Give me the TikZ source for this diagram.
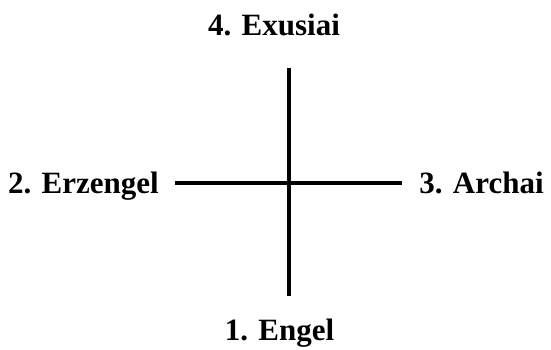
\documentclass[tikz,border=0pt]{standalone}
\usepackage{fontspec}
\setmainfont{Liberation Serif}
\begin{document}
\begin{tikzpicture}[x=1pt,y=-1pt,
  lbl/.style={font=\fontsize{31}{37}\selectfont\bfseries, inner sep=0pt, anchor=base},
  axis/.style={line width=3.2pt, black}]
\useasboundingbox (0,0) rectangle (551,350);
\node[lbl] (top) at (274,36) {4. Exusiai};
\node[lbl] (bottom) at (279.5,340) {1. Engel};
\node[lbl] (left) at (83.4,193) {2. Erzengel};
\node[lbl] (right) at (481.5,193) {3. Archai};
\coordinate (vt) at (289,68);
\coordinate (vb) at (289,296);
\coordinate (hl) at (175,183);
\coordinate (hr) at (402,183);
\draw[axis] (vt) -- (vb);
\draw[axis] (hl) -- (hr);
\end{tikzpicture}
\end{document}
